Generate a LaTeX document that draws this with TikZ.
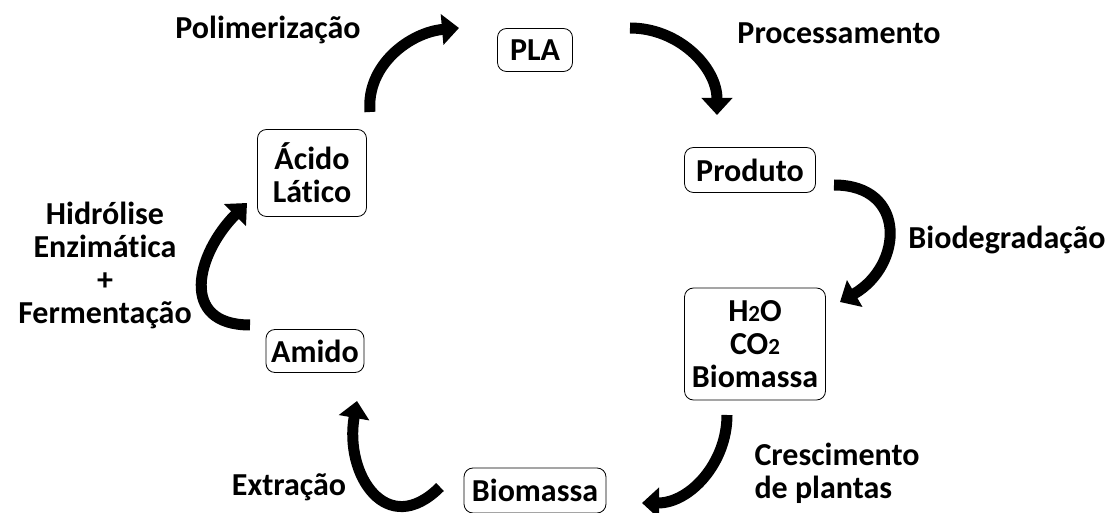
\documentclass[tikz,border=0pt]{standalone}
\usepackage{fontspec}
\setmainfont{Carlito}[Ligatures=NoCommon]
\usetikzlibrary{arrows.meta}
\tikzset{
  etapa/.style={draw, rounded corners=9pt, line width=0.8pt, inner sep=0pt,
    align=center, font=\bfseries\fontsize{32}{33}\selectfont},
  rotulo/.style={align=center, font=\bfseries\fontsize{32}{33}\selectfont},
  seta/.style={line width=11pt, -{Triangle[length=17pt,width=30pt]}},
}
\newcommand{\ind}[1]{{\fontsize{23}{23}\selectfont #1}}
\begin{document}
\begin{tikzpicture}[x=1pt,y=1pt]
  \useasboundingbox (0,0) rectangle (1112,512);
  \clip (0,0) rectangle (1112,512);
  % etapas do ciclo
  \node[etapa, minimum width=75, minimum height=43] (pla) at (535,462) {PLA};
  \node[etapa, minimum width=131, minimum height=45] (produto) at (750,342) {Produto};
  \node[etapa, minimum width=141, minimum height=112] (residuo) at (755,168) {H\ind{2}O\\CO\ind{2}\\Biomassa};
  \node[etapa, minimum width=142, minimum height=45] (biomassa) at (535,21.5) {Biomassa};
  \node[etapa, minimum width=98, minimum height=43] (amido) at (315,161) {Amido};
  \node[etapa, minimum width=109, minimum height=87] (acido) at (312,339) {Ácido\\Lático};
  % pontas das setas
  \coordinate (s1) at (370,400); \coordinate (e1) at (459,484);
  \coordinate (s2) at (630,484); \coordinate (e2) at (717,397);
  \coordinate (s3) at (834,327); \coordinate (e3) at (840,210);
  \coordinate (s4) at (727,97);  \coordinate (e4) at (642,9);
  \coordinate (s5) at (440,25);  \coordinate (e5) at (357,111);
  \coordinate (s6) at (250,187); \coordinate (e6) at (247,309);
  % setas
  \draw[seta] (s1) to[out=95,in=185] (e1);
  \draw[seta] (s2) to[out=0,in=90] (e2);
  \draw[seta] (s3) to[out=0,in=30,looseness=1.6] (e3);
  \draw[seta] (s4) to[out=-90,in=0] (e4);
  \draw[seta] (s5) to[out=225,in=260,looseness=1.6] (e5);
  \draw[seta] (s6) to[out=180,in=225,looseness=1.5] (e6);
  % rotulos
  \node[rotulo] (polim) at (268,482) {Polimerização};
  \node[rotulo] (proc) at (839,479) {Processamento};
  \node[rotulo] (biodeg) at (1007,272) {Biodegradação};
  \node[rotulo, align=left, anchor=west] (cresc) at (751,39) {Crescimento\\de plantas};
  \node[rotulo] (extr) at (289,25) {Extração};
  \node[rotulo] (hidr) at (105,247) {Hidrólise\\Enzimática\\+\\Fermentação};
\end{tikzpicture}
\end{document}
